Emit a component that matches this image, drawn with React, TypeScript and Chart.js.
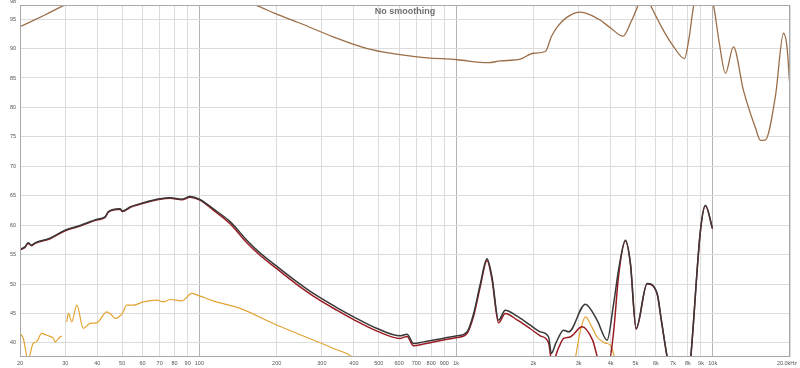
import { useEffect, useRef } from 'react';
import { Chart, registerables } from 'chart.js';

Chart.register(...registerables);

const titleText = 'No smoothing';

const xTicks = [20, 30, 40, 50, 60, 70, 80, 90, 100, 200, 300, 400, 500, 600, 700, 800, 900, 1000, 2000, 3000, 4000, 5000, 6000, 7000, 8000, 9000, 10000, 20000];
const xTickLabels = ['20', '30', '40', '50', '60', '70', '80', '90', '100', '200', '300', '400', '500', '600', '700', '800', '900', '1k', '2k', '3k', '4k', '5k', '6k', '7k', '8k', '9k', '10k', '20.0kHz'];
const yTicks = [40, 45, 50, 55, 60, 65, 70, 75, 80, 85, 90, 95];
const yTopLabel = '98';

// [frequency Hz, level dB]
const brownPts: [number, number | null][] = [
  [20, 93.7], [25, 95.7], [30, 97.4], [45, 100], [70, 101], [100, 100.5], [130, 99], [165, 97.4],
  [200, 95.85], [247, 94.3], [332, 92.0], [451, 90.0], [706, 88.6], [1010, 88.1], [1336, 87.6],
  [1487, 87.9], [1780, 88.2], [2000, 89.2], [2228, 89.5], [2350, 92.0], [2480, 93.7], [2700, 95.3],
  [3050, 96.2], [3300, 95.8], [3650, 94.8], [4000, 93.5], [4475, 92.1], [4800, 94.5], [5090, 97.1],
  [5300, 99], [5500, 99], [5716, 97.4], [6424, 93.1], [7000, 90.5], [7760, 88.3], [8100, 92],
  [8412, 97.1], [8800, 100], [9500, 100], [10063, 97.4], [10600, 91], [11208, 85.8], [12040, 90.3],
  [13170, 82.9], [14675, 76.5], [15350, 74.4], [16050, 74.5], [17560, 82], [18870, 92.6],
  [19500, 90], [19910, 84.4],
];

const blackPts: [number, number | null][] = [
  [20, 55.9], [20.9, 56.3], [21.5, 57.0], [22.2, 56.6], [22.9, 57.0], [26.2, 57.8], [30, 59.15],
  [34.3, 59.95], [40, 61.0], [42.9, 61.4], [44.2, 62.3], [49.1, 62.8], [50.1, 62.4], [53.7, 63.1],
  [60.5, 63.8], [70.3, 64.47], [76.9, 64.64], [85.4, 64.4], [92, 64.85], [100, 64.4], [113, 62.8],
  [132, 60.56], [153, 57.45], [173, 55.2], [200, 53.03], [240, 50.37], [278, 48.4], [343, 46.0],
  [399, 44.42], [492, 42.45], [606, 41.19], [644, 41.48], [683, 39.9], [747, 40.17], [894, 40.8],
  [1008, 41.2], [1103, 41.87], [1171, 45.0], [1243, 50.0], [1320, 54.3], [1380, 51.2], [1464, 43.86],
  [1555, 45.56], [1728, 44.54], [1947, 43.0], [2130, 41.87], [2294, 41.0], [2350, 38.2], [2450, 40.0],
  [2626, 42.16], [2746, 41.87], [3190, 46.58], [3542, 43.86], [3876, 40.46], [4112, 46.7], [4300, 52.5],
  [4568, 57.45], [4778, 53.5], [5030, 42.45], [5550, 50.1], [6072, 48.4], [6300, 44.0], [6678, 37.0],
  [7200, 30], [7800, 30], [8188, 37.0], [8958, 59.15], [9368, 63.4], [9974, 59.5],
];

const redPts: [number, number | null][] = [
  [20, 55.8], [20.9, 56.2], [21.5, 56.9], [22.2, 56.5], [22.9, 56.9], [26.2, 57.7], [30, 59.05],
  [34.3, 59.85], [40, 60.9], [42.9, 61.3], [44.2, 62.2], [49.1, 62.7], [50.1, 62.3], [53.7, 63.0],
  [60.5, 63.7], [70.3, 64.4], [76.9, 64.55], [85.4, 64.3], [92, 64.75], [100, 64.3], [113, 62.6],
  [132, 60.2], [153, 57.0], [173, 54.8], [200, 52.6], [240, 49.9], [278, 47.95], [343, 45.55],
  [399, 43.95], [492, 42.0], [606, 40.75], [644, 41.1], [683, 39.5], [747, 39.8], [894, 40.5],
  [1008, 40.9], [1103, 41.6], [1171, 44.6], [1243, 49.6], [1320, 54.0], [1380, 50.8], [1464, 43.4],
  [1555, 45.0], [1728, 43.9], [1947, 42.4], [2130, 41.2], [2294, 40.0], [2366, 36.5], [2500, 39.0],
  [2626, 40.75], [2780, 41.0], [3098, 42.72], [3400, 40.5], [3650, 36.5], [3932, 36.5], [4112, 42.0],
  [4300, 51.5], [4568, 57.3], [4778, 53.4], [5030, 42.35], [5550, 50.0], [6072, 48.3], [6300, 43.9],
  [6678, 37.0], [7200, 30], [7800, 30], [8188, 37.0], [8958, 59.05], [9368, 63.3], [9974, 59.4],
];

const yellowPts: [number, number | null][] = [
  [20, 41.6], [20.6, 40.75], [21.5, 37.2], [22.5, 39.9], [23.2, 40.17], [24.3, 41.6], [25.4, 41.3],
  [27.0, 40.75], [27.4, 40.17], [28.6, 41.0], [29.1, 41.14], [29.6, null], [30.4, 43.57], [30.9, 45.0],
  [31.8, 43.57], [33.3, 46.4], [35.3, 42.45], [37.5, 43.3], [39.8, 43.4], [43.6, 45.27], [45.6, 44.7],
  [46.9, 44.15], [50.1, 45.0], [52.1, 46.4], [55.3, 46.4], [60.5, 46.97], [68.2, 47.26], [72.4, 46.97],
  [76.9, 47.37], [85.4, 47.14], [93.4, 48.4], [100.7, 47.94], [113, 47.14], [144, 45.85], [194, 43.3],
  [240, 41.6], [333, 39.05], [399, 37.4], [420, 36], [600, null], [2800, 33], [2916, 37.4], [3050, 42],
  [3190, 44.42], [3400, 42.5], [3542, 41.0], [3800, 40.0], [3992, 39.6], [4054, 39.0], [4176, 36.5],
  [4250, 33],
];

const FONT = '"Liberation Sans", Arial, sans-serif';

const decorPlugin = {
  id: 'decor',
  afterDraw(chart: any) {
    const { ctx, chartArea } = chart;
    const xs = chart.scales.x;
    const ys = chart.scales.y;
    ctx.save();
    ctx.strokeStyle = '#a8a8a8';
    ctx.lineWidth = 1;
    ctx.strokeRect(chartArea.left + 0.5, chartArea.top + 0.5, chartArea.right - chartArea.left - 1, chartArea.bottom - chartArea.top - 1);

    ctx.fillStyle = '#555';
    ctx.font = '5.5px ' + FONT;
    ctx.textAlign = 'right';
    ctx.textBaseline = 'middle';
    yTicks.forEach((v) => {
      ctx.fillText(String(v), chartArea.left - 4, ys.getPixelForValue(v));
    });
    ctx.fillText(yTopLabel, chartArea.left - 4, chartArea.top - 4);

    ctx.textBaseline = 'middle';
    xTicks.forEach((v, i) => {
      const px = xs.getPixelForValue(v);
      const lab = xTickLabels[i];
      if (i === xTicks.length - 1) {
        ctx.textAlign = 'center';
        ctx.fillText(lab, px - 3, chartArea.bottom + 6);
      } else {
        ctx.textAlign = 'center';
        ctx.fillText(lab, px, chartArea.bottom + 6);
      }
    });

    ctx.font = 'bold 9px ' + FONT;
    ctx.fillStyle = '#707070';
    ctx.textAlign = 'center';
    ctx.textBaseline = 'middle';
    ctx.fillText(titleText, (chartArea.left + chartArea.right) / 2, chartArea.top + 7);
    ctx.restore();
  },
};

const toXY = (pts: [number, number | null][]) => pts.map(([x, y]) => ({ x, y }));

export default function App() {
  const ref = useRef<HTMLCanvasElement | null>(null);
  useEffect(() => {
    if (!ref.current) return;
    const majors = new Set([100, 1000, 10000]);
    const chart = new Chart(ref.current, {
      type: 'line',
      data: {
        datasets: [
          { label: 'black', data: toXY(blackPts), borderColor: '#383838', borderWidth: 1.5 },
          { label: 'red', data: toXY(redPts), borderColor: '#9a1b22', borderWidth: 1.5 },
          { label: 'yellow', data: toXY(yellowPts), borderColor: '#e2a535', borderWidth: 1.2 },
          { label: 'brown', data: toXY(brownPts), borderColor: '#9c6e48', borderWidth: 1.3 },
        ].map((d) => ({
          ...d,
          pointRadius: 0,
          fill: false,
          cubicInterpolationMode: 'monotone' as const,
          spanGaps: false,
        })),
      },
      options: {
        responsive: false,
        animation: false,
        events: [],
        layout: { padding: { left: 0, top: 5, right: 10, bottom: 0 } },
        plugins: { legend: { display: false }, tooltip: { enabled: false }, title: { display: false } },
        scales: {
          x: {
            type: 'logarithmic',
            min: 20,
            max: 20000,
            afterBuildTicks: (s: any) => {
              s.ticks = xTicks.map((v) => ({ value: v }));
            },
            afterFit: (s: any) => {
              s.height = 11;
            },
            ticks: { display: false },
            grid: {
              drawTicks: false,
              lineWidth: 1,
              color: (c: any) => (c.tick && majors.has(c.tick.value) ? '#b4b4b4' : '#dcdcdc'),
            },
            border: { display: false },
          },
          y: {
            type: 'linear',
            min: 37.6,
            max: 97.4,
            afterBuildTicks: (s: any) => {
              s.ticks = yTicks.map((v) => ({ value: v }));
            },
            afterFit: (s: any) => {
              s.width = 20;
            },
            ticks: { display: false },
            grid: { drawTicks: false, lineWidth: 1, color: '#dcdcdc' },
            border: { display: false },
          },
        },
      },
      plugins: [decorPlugin],
    } as any);
    return () => chart.destroy();
  }, []);
  return (
    <div style={{ position: 'fixed', left: 0, top: 0, width: 800, height: 368, background: '#fff' }}>
      <canvas ref={ref} width={800} height={368} style={{ display: 'block' }} />
    </div>
  );
}
